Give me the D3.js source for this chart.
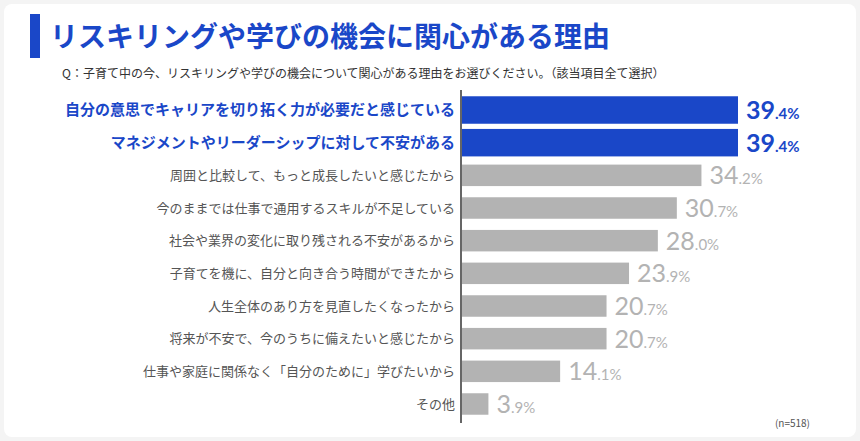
<!DOCTYPE html>
<html><head><meta charset="utf-8">
<script src="https://cdn.jsdelivr.net/npm/d3@7"></script>
<style>
body{margin:0;background:#f4f4f4;font-family:"Noto Sans CJK JP","Noto Sans",sans-serif;}
</style></head>
<body><div id="chart"></div>
<script>
// Data
const categories = [
  "自分の意思でキャリアを切り拓く力が必要だと感じている",
  "マネジメントやリーダーシップに対して不安がある",
  "周囲と比較して、もっと成長したいと感じたから",
  "今のままでは仕事で通用するスキルが不足している",
  "社会や業界の変化に取り残される不安があるから",
  "子育てを機に、自分と向き合う時間ができたから",
  "人生全体のあり方を見直したくなったから",
  "将来が不安で、今のうちに備えたいと感じたから",
  "仕事や家庭に関係なく「自分のために」学びたいから",
  "その他"
];
const values = [39.4, 39.4, 34.2, 30.7, 28.0, 23.9, 20.7, 20.7, 14.1, 3.9];
const highlighted = [true, true, false, false, false, false, false, false, false, false];

const width = 860, height = 441;
const blue = "#1a47c8", gray = "#b3b3b3";

const svg = d3.select("#chart").append("svg")
  .attr("width", width).attr("height", height);

svg.append("rect").attr("x", 4).attr("y", 4).attr("width", width - 8).attr("height", height - 8)
  .attr("rx", 8).attr("fill", "#fff");

// Title
svg.append("rect").attr("x", 30).attr("y", 14).attr("width", 10).attr("height", 44).attr("fill", blue);
svg.append("text").attr("x", 50).attr("y", 47).text("リスキリングや学びの機会に関心がある理由")
  .attr("fill", blue).style("font-size", "28px").style("font-weight", "bold");
svg.append("text").attr("x", 62).attr("y", 78)
  .text("Q：子育て中の今、リスキリングや学びの機会について関心がある理由をお選びください。（該当項目全て選択）")
  .attr("fill", "#333").style("font-size", "12px");

// Scales
const x0 = 461;
const x = d3.scaleLinear().domain([0, 39.4]).range([x0, 738]);
const y = d3.scaleBand().domain(categories).range([94, 420]).paddingInner(0.22).paddingOuter(0.1);

const rows = svg.selectAll(".row").data(categories).enter().append("g").attr("class", "row");

rows.append("rect")
  .attr("x", x0)
  .attr("y", (d, i) => highlighted[i] ? y(d) - 1 : y(d) + 2)
  .attr("height", (d, i) => highlighted[i] ? y.bandwidth() + 2 : y.bandwidth() - 4)
  .attr("width", (d, i) => x(values[i]) - x0)
  .attr("fill", (d, i) => highlighted[i] ? blue : gray);

rows.append("text")
  .attr("x", x0 - 6)
  .attr("y", d => y(d) + y.bandwidth() / 2)
  .attr("dy", "0.35em")
  .attr("text-anchor", "end")
  .text(d => d)
  .attr("fill", (d, i) => highlighted[i] ? blue : "#555")
  .style("font-size", (d, i) => highlighted[i] ? "15px" : "13px")
  .style("font-weight", (d, i) => highlighted[i] ? "bold" : "normal");

const lbl = rows.append("text")
  .attr("x", (d, i) => x(values[i]) + 8)
  .attr("y", d => y(d) + y.bandwidth() / 2 + 9)
  .attr("fill", (d, i) => highlighted[i] ? blue : gray)
  .style("font-family", "Lato, 'Noto Sans', sans-serif")
  .style("font-weight", (d, i) => highlighted[i] ? "bold" : "normal");
lbl.append("tspan").style("font-size", "25px")
  .text((d, i) => Math.floor(values[i]));
lbl.append("tspan").style("font-size", "15px")
  .text((d, i) => "." + values[i].toFixed(1).split(".")[1] + "%");

// Axis line
svg.append("line").attr("x1", x0).attr("x2", x0).attr("y1", 90).attr("y2", 423)
  .attr("stroke", "#666").attr("stroke-width", 2);

svg.append("text").attr("x", 810).attr("y", 427).attr("text-anchor", "end")
  .text("(n=518)").attr("fill", "#555").style("font-size", "10px");
</script></body></html>
